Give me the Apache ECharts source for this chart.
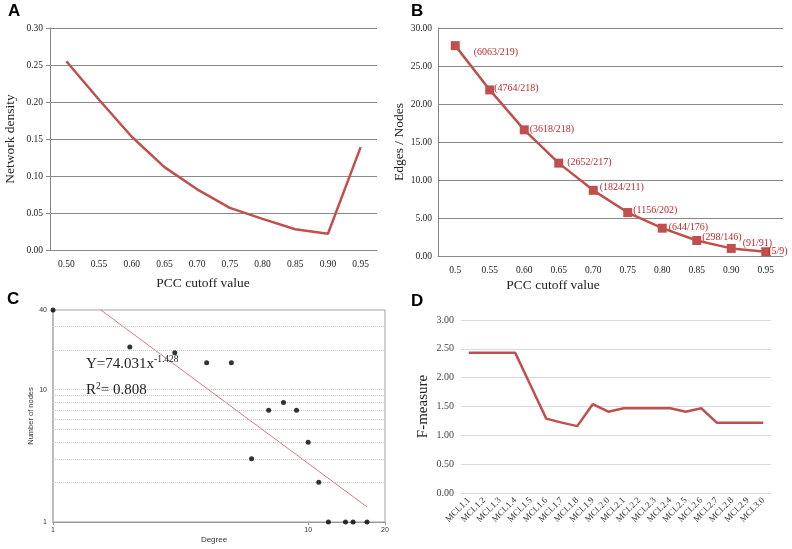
<!DOCTYPE html>
<html><head><meta charset="utf-8">
<script src="https://cdn.jsdelivr.net/npm/echarts@6/dist/echarts.min.js"></script>
<style>html,body{margin:0;padding:0;background:#fff}#c{width:792px;height:549px}</style>
</head><body><div id="c"></div>
<script>
// Panel A
const cutoffA = ['0.50','0.55','0.60','0.65','0.70','0.75','0.80','0.85','0.90','0.95'];
const densityA = [0.255,0.203,0.153,0.112,0.082,0.057,0.042,0.028,0.022,0.139];
// Panel B
const cutoffB = ['0.5','0.55','0.60','0.65','0.70','0.75','0.80','0.85','0.90','0.95'];
const ratioB = [27.68,21.85,16.60,12.22,8.64,5.72,3.66,2.04,1.00,0.56];
const labelsB = ['(6063/219)','(4764/218)','(3618/218)','(2652/217)','(1824/211)','(1156/202)','(644/176)','(298/146)','(91/91)','(5/9)'];
// Panel C
const degreeC = [1,2,3,4,5,6,7,8,9,10,11,12,14,15,17];
const nodesC = [40,21,19,16,16,3,7,8,7,4,2,1,1,1,1];
const fitC = [[1.54,40],[17,1.30]];
const gridLinesC = [2,3,4,5,6,7,8,9,10,20,30];
// Panel D
const mclD = ['MCL1.1','MCL1.2','MCL1.3','MCL1.4','MCL1.5','MCL1.6','MCL1.7','MCL1.8','MCL1.9','MCL2.0','MCL2.1','MCL2.2','MCL2.3','MCL2.4','MCL2.5','MCL2.6','MCL2.7','MCL2.8','MCL2.9','MCL3.0'];
const fD = [2.43,2.43,2.43,2.43,1.86,1.29,1.22,1.16,1.54,1.41,1.47,1.47,1.47,1.47,1.41,1.47,1.22,1.22,1.22,1.22];

const SERIF = 'Liberation Serif';
const SANS = 'Liberation Sans';
const RED = '#c0504d';
const labelOffsetsB = [[14,7],[0,-2],[1,0],[4,-1],[2,-3],[1,-2],[2,-1],[1,-3],[7,-5],[-2,0]];

const chart = echarts.init(document.getElementById('c'), null, {renderer:'canvas'});
chart.setOption({
  animation:false,
  backgroundColor:'#fff',
  grid:[
    {left:50, top:28, width:327, height:222},
    {left:438, top:28, width:345, height:228},
    {left:53, top:310, width:332, height:212, show:true, borderColor:'#a0a0a0', borderWidth:1},
    {left:461, top:320, width:310, height:173}
  ],
  xAxis:[
    {gridIndex:0, type:'category', data:cutoffA, boundaryGap:true,
     axisLine:{lineStyle:{color:'#888'}}, axisTick:{length:4, lineStyle:{color:'#888'}},
     axisLabel:{fontFamily:SERIF, fontSize:9.5, color:'#222', margin:9}},
    {gridIndex:1, type:'category', data:cutoffB, boundaryGap:true,
     axisLine:{lineStyle:{color:'#888'}}, axisTick:{show:false},
     axisLabel:{fontFamily:SERIF, fontSize:9.5, color:'#222', margin:9}},
    {gridIndex:2, type:'log', logBase:10, min:1, max:20,
     axisLine:{lineStyle:{color:'#999'}}, axisTick:{length:3, lineStyle:{color:'#999'}},
     splitLine:{show:false},
     axisLabel:{fontFamily:SANS, fontSize:7, color:'#333', margin:5, formatter:v=>String(Math.round(v))}},
    {gridIndex:3, type:'category', data:mclD, boundaryGap:true,
     axisLine:{show:false}, axisTick:{show:false},
     axisLabel:{fontFamily:SERIF, fontSize:9, color:'#333', rotate:45, interval:0, margin:6}}
  ],
  yAxis:[
    {gridIndex:0, type:'value', min:0, max:0.3, interval:0.05,
     name:'Network density', nameLocation:'middle', nameGap:33,
     nameTextStyle:{fontFamily:SERIF, fontSize:13.5, color:'#222'},
     axisLine:{show:true, lineStyle:{color:'#888'}}, axisTick:{show:true, length:4, lineStyle:{color:'#888'}},
     splitLine:{lineStyle:{color:'#888'}},
     axisLabel:{fontFamily:SERIF, fontSize:9.5, color:'#222', formatter:v=>v.toFixed(2), margin:7}},
    {gridIndex:1, type:'value', min:0, max:30, interval:5,
     name:'Edges / Nodes', nameLocation:'middle', nameGap:30,
     nameTextStyle:{fontFamily:SERIF, fontSize:13.5, color:'#222'},
     axisLine:{show:true, lineStyle:{color:'#888'}}, axisTick:{show:false},
     splitLine:{lineStyle:{color:'#888'}},
     axisLabel:{fontFamily:SERIF, fontSize:9.5, color:'#222', formatter:v=>v.toFixed(2), margin:6}},
    {gridIndex:2, type:'log', logBase:10, min:1, max:40,
     name:'Number of nodes', nameLocation:'middle', nameGap:14,
     nameTextStyle:{fontFamily:SANS, fontSize:7.5, color:'#333'},
     axisLine:{show:true, lineStyle:{color:'#bbb', width:2}}, axisTick:{show:false},
     splitLine:{show:false},
     axisLabel:{fontFamily:SANS, fontSize:7, color:'#333', margin:6, formatter:v=>String(Math.round(v))}},
    {gridIndex:3, type:'value', min:0, max:3, interval:0.5,
     name:'F-measure', nameLocation:'middle', nameGap:30,
     nameTextStyle:{fontFamily:SERIF, fontSize:15, color:'#222'},
     axisLine:{show:false}, axisTick:{show:false},
     splitLine:{lineStyle:{color:'#d9d9d9'}},
     axisLabel:{fontFamily:SERIF, fontSize:10, color:'#444', formatter:v=>v.toFixed(2), margin:7}}
  ],
  series:[
    {type:'line', xAxisIndex:0, yAxisIndex:0, data:densityA, showSymbol:false,
     lineStyle:{color:RED, width:2.5}},
    {type:'line', xAxisIndex:1, yAxisIndex:1,
     data:ratioB.map((v,i)=>({value:v, label:{offset:labelOffsetsB[i]}})),
     symbol:'rect', symbolSize:9, itemStyle:{color:RED},
     lineStyle:{color:RED, width:2.5},
     label:{show:true, position:'right', distance:0, fontFamily:SERIF, fontSize:10, color:'#c0282b',
            formatter:p=>labelsB[p.dataIndex]}},
    {type:'line', xAxisIndex:2, yAxisIndex:2, data:fitC, showSymbol:false,
     lineStyle:{color:'#d47c7e', width:1},
     markLine:{silent:true, symbol:'none', label:{show:false},
       lineStyle:{color:'#c8c8c8', type:'dotted', width:1},
       data:gridLinesC.map(v=>({yAxis:v}))}},
    {type:'scatter', xAxisIndex:2, yAxisIndex:2,
     data:degreeC.map((d,i)=>[d,nodesC[i]]),
     symbolSize:5, itemStyle:{color:'#000'}, clip:false, z:5},
    {type:'line', xAxisIndex:3, yAxisIndex:3, data:fD, showSymbol:false,
     lineStyle:{color:RED, width:2.5}}
  ],
  graphic:[
    {type:'text', left:8, top:3, style:{text:'A', font:'bold 17px '+SANS, fill:'#000'}},
    {type:'text', left:411, top:3, style:{text:'B', font:'bold 17px '+SANS, fill:'#000'}},
    {type:'text', left:7, top:291, style:{text:'C', font:'bold 17px '+SANS, fill:'#000'}},
    {type:'text', left:411, top:293, style:{text:'D', font:'bold 17px '+SANS, fill:'#000'}},
    {type:'text', x:203, y:276, style:{text:'PCC cutoff value', font:'13.5px '+SERIF, fill:'#222', align:'center'}},
    {type:'text', x:553, y:278, style:{text:'PCC cutoff value', font:'13.5px '+SERIF, fill:'#222', align:'center'}},
    {type:'text', x:214, y:536, style:{text:'Degree', font:'8px '+SANS, fill:'#333', align:'center'}},
    {type:'text', x:86, y:354, z:10, style:{
      text:'{a|Y=74.031x}{s|-1.428}',
      rich:{a:{fontFamily:SERIF, fontSize:15, fill:'#222', verticalAlign:'bottom'},
            s:{fontFamily:SERIF, fontSize:9.5, fill:'#222', verticalAlign:'top', padding:[0,0,8,0]}}}},
    {type:'text', x:86, y:381, z:10, style:{
      text:'{a|R}{s|2}{a|= 0.808}',
      rich:{a:{fontFamily:SERIF, fontSize:15, fill:'#222'},
            s:{fontFamily:SERIF, fontSize:9.5, fill:'#222', padding:[0,0,8,0]}}}}
  ]
});
</script></body></html>
